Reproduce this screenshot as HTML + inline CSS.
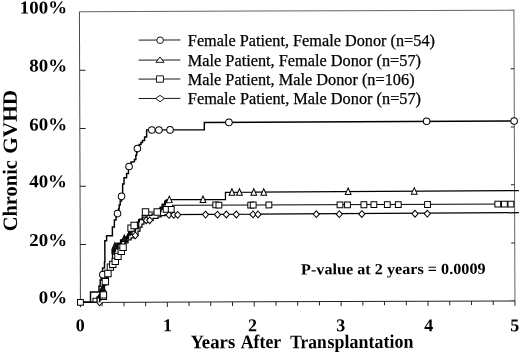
<!DOCTYPE html>
<html><head><meta charset="utf-8"><title>Chronic GVHD</title>
<style>html,body{margin:0;padding:0;background:#fff}svg{display:block}</style></head>
<body>
<svg width="520" height="353" viewBox="0 0 520 353">
<rect width="520" height="353" fill="#fff"/>
<g transform="rotate(-0.2 260 176.5)">
<path d="M80.0,11.0H514.5V301.8" fill="none" stroke="#666" stroke-width="1"/>
<path d="M80.0,301.8V11.0" fill="none" stroke="#4a4a4a" stroke-width="1"/>
<path d="M80.0,301.8H514.5" fill="none" stroke="#222" stroke-width="1.1"/>
<path d="M80.0,243.8h5.8M514.5,243.8h-3.5M80.0,185.6h5.8M514.5,185.6h-3.5M80.0,127.8h5.8M514.5,127.8h-3.5M80.0,69.7h5.8M514.5,69.7h-3.5M80.0,301.8v4.8M101.7,301.8v4.0M123.5,301.8v4.0M145.2,301.8v4.0M166.9,301.8v4.8M188.6,301.8v4.0M210.3,301.8v4.0M232.1,301.8v4.0M253.8,301.8v4.8M275.5,301.8v4.0M297.2,301.8v4.0M319.0,301.8v4.0M340.7,301.8v4.8M362.4,301.8v4.0M384.1,301.8v4.0M405.9,301.8v4.0M427.6,301.8v4.8M449.3,301.8v4.0M471.1,301.8v4.0M492.8,301.8v4.0M514.5,301.8v4.8" fill="none" stroke="#222" stroke-width="1"/>
<path d="M79.6,301.7H99.2V301.7H99.2V295.4H101.6V289.4H103.6V284.5H105.6V278.5H107.7V273.5H109.7V267.5H112.7V261.5H115.7V255.5H118.2V251.5H121.8V246.5H124.8V242.5H127.8V239.5H130.8V237.5H135.1V235.0H137.8V230.6H139.8V226.6H141.8V223.6H143.8V221.1H146.1V219.9H149.5V219.9H152.9V218.1H157.9V216.6H160.9V215.2H164.9V214.3L518.9,213.6" fill="none" stroke="#000" stroke-width="1.25" stroke-linejoin="miter"/>
<path d="M79.6,301.7H96.6V301.7H96.6V296.4H99.6V296.4H99.6V290.4H102.3V287.5H104.1V280.5H106.2V274.5H108.2V268.5H110.2V261.5H112.2V253.5H114.2V246.5H116.8V246.5H116.8V243.0H120.8V243.0H120.8V239.5H124.3V238.5H126.3V236.0H128.3V234.0H131.8V230.6H135.3V228.1H138.5V225.6H138.5V219.3H142.6V216.6H146.9V215.1H151.9V213.6H156.9V210.6H159.9V207.7H162.4V204.2H164.9V201.0H166.9V199.4H225.4V199.4H225.4V192.2L518.9,191.5" fill="none" stroke="#000" stroke-width="1.25" stroke-linejoin="miter"/>
<path d="M79.6,301.7H92.6V301.7H92.6V297.6H97.9V297.6H97.9V294.4H100.6V294.4H100.6V289.4H102.6V289.5H102.6V284.5H105.0V281.1H106.3V276.5H107.6V273.0H108.9V269.5H110.1V266.6H112.5V263.9H115.0V260.9H116.3V258.5H117.7V255.9H119.3V253.5H121.0V250.8H122.8V246.8H124.8V241.5H126.8V235.5H128.3V230.5H130.9V227.7H134.0V225.0H136.8V221.6H139.4V218.6H141.9V215.1H145.4V211.6H157.3V211.6H160.9V209.0H172.4V209.0H172.4V205.0L510.9,204.9" fill="none" stroke="#000" stroke-width="1.0" stroke-linejoin="miter"/>
<path d="M111.2,252.5H112.3V250.0H114.7V246.0H117.3V243.1H120.8V240.1H124.3V237.5H127.8V234.1H129.8V232.1L131.8,230.4" fill="none" stroke="#000" stroke-width="2.3" stroke-linejoin="miter"/>
<path d="M99.1,299.4H100.1V295.4H101.1V290.4H102.3V287.0L103.2,283.5" fill="none" stroke="#000" stroke-width="1.8" stroke-linejoin="miter"/>
<path d="M158.4,209.1H160.4V207.2H162.4V204.2H164.9V201.0L166.9,199.4" fill="none" stroke="#000" stroke-width="1.9" stroke-linejoin="miter"/>
<path d="M79.6,301.7H90.1V301.7H90.1V291.4H98.6V291.4H98.6V285.7H99.8V285.7H99.8V279.4H100.9V273.9H102.2V267.4H104.2V261.5H104.6V240.3H106.4V240.3H106.4V235.3H112.2V235.3H112.2V226.5H114.2V226.5H114.2V219.5H115.8V219.5H115.9V215.5H117.4V213.1H118.4V208.5H119.1V204.5H120.1V200.5H121.5V195.9H122.6V189.5H122.6V183.5H124.0V183.5H124.0V177.2H126.6V177.2H126.6V173.1H128.5V173.1H128.5V166.0H131.0V166.0H131.1V161.5H134.5V161.6H134.5V159.0H135.9V159.0H135.9V154.9H136.7V151.6H137.5V148.1H139.3V148.1H139.3V144.1H141.1V144.1H141.1V142.0H142.6V142.0H142.6V140.0H144.7V140.0H144.7V136.6H146.7V136.6H146.8V129.5H204.5V129.5H204.5V122.3L514.2,121.9" fill="none" stroke="#000" stroke-width="1.45" stroke-linejoin="miter"/>
<g fill="#fff" stroke="#000" stroke-width="1">
<path d="M96.2,301.8L99.2,305.2L102.2,301.8"/>
<path d="M135.1,231.6L138.1,235.0L135.1,238.4L132.0,235.0Z"/>
<path d="M146.1,216.5L149.2,219.9L146.1,223.3L143.1,219.9Z"/>
<path d="M149.5,216.5L152.6,219.9L149.5,223.3L146.5,219.9Z"/>
<path d="M168.9,211.2L171.9,214.6L168.9,218.0L165.8,214.6Z"/>
<path d="M173.7,211.2L176.7,214.6L173.7,218.0L170.6,214.6Z"/>
<path d="M177.6,211.2L180.6,214.6L177.6,218.0L174.5,214.6Z"/>
<path d="M205.4,211.0L208.4,214.4L205.4,217.8L202.3,214.4Z"/>
<path d="M217.4,211.1L220.4,214.5L217.4,217.9L214.3,214.5Z"/>
<path d="M226.2,211.0L229.2,214.4L226.2,217.8L223.1,214.4Z"/>
<path d="M236.2,211.0L239.2,214.4L236.2,217.8L233.1,214.4Z"/>
<path d="M252.9,211.0L255.9,214.4L252.9,217.8L249.8,214.4Z"/>
<path d="M257.9,211.0L260.9,214.4L257.9,217.8L254.8,214.4Z"/>
<path d="M316.2,211.0L319.2,214.4L316.2,217.8L313.1,214.4Z"/>
<path d="M339.2,211.0L342.2,214.4L339.2,217.8L336.1,214.4Z"/>
<path d="M361.7,211.0L364.7,214.4L361.7,217.8L358.6,214.4Z"/>
<path d="M414.9,210.9L417.9,214.3L414.9,217.7L411.8,214.3Z"/>
<path d="M427.2,210.9L430.2,214.3L427.2,217.7L424.1,214.3Z"/>
<circle cx="102.5" cy="274.1" r="3.3"/>
<circle cx="117.4" cy="213.1" r="3.3"/>
<circle cx="121.5" cy="195.9" r="3.3"/>
<circle cx="129.1" cy="166.0" r="3.3"/>
<circle cx="137.5" cy="148.1" r="3.3"/>
<circle cx="152.0" cy="129.6" r="3.3"/>
<circle cx="159.1" cy="129.6" r="3.3"/>
<circle cx="170.2" cy="129.6" r="3.3"/>
<circle cx="229.1" cy="122.3" r="3.3"/>
<circle cx="426.8" cy="121.9" r="3.3"/>
<circle cx="514.3" cy="121.9" r="3.3"/>
<path d="M102.3,283.9L105.2,290.4H99.4Z" fill="#1a1a1a"/>
<path d="M114.7,241.9L117.6,248.4H111.8Z" fill="#1a1a1a"/>
<path d="M124.1,234.5L127.0,241.0H121.2Z" fill="#1a1a1a"/>
<path d="M169.2,195.8L172.1,202.3H166.3Z"/>
<path d="M202.9,195.8L205.8,202.3H200.0Z"/>
<path d="M231.9,188.7L234.8,195.2H229.0Z"/>
<path d="M239.4,188.7L242.3,195.2H236.5Z"/>
<path d="M253.7,188.7L256.6,195.2H250.8Z"/>
<path d="M263.7,188.7L266.6,195.2H260.8Z"/>
<path d="M348.1,188.3L351.0,194.8H345.2Z"/>
<path d="M414.2,188.2L417.1,194.7H411.3Z"/>
<rect x="77.1" y="298.8" width="5.8" height="5.8"/>
<rect x="99.7" y="292.5" width="6.4" height="6.4"/>
<rect x="99.8" y="291.1" width="6.4" height="6.4"/>
<rect x="101.8" y="277.9" width="6.4" height="6.4"/>
<rect x="104.4" y="269.8" width="6.4" height="6.4"/>
<rect x="106.9" y="263.4" width="6.4" height="6.4"/>
<rect x="109.3" y="260.7" width="6.4" height="6.4"/>
<rect x="111.8" y="257.7" width="6.4" height="6.4"/>
<rect x="114.5" y="252.7" width="6.4" height="6.4"/>
<rect x="117.8" y="247.6" width="6.4" height="6.4"/>
<rect x="119.6" y="243.6" width="6.4" height="6.4"/>
<rect x="127.7" y="224.5" width="6.4" height="6.4"/>
<rect x="130.8" y="221.8" width="6.4" height="6.4"/>
<rect x="142.2" y="208.4" width="6.4" height="6.4"/>
<rect x="153.9" y="208.4" width="6.4" height="6.4"/>
<rect x="163.1" y="206.1" width="5.8" height="5.8"/>
<rect x="168.2" y="206.1" width="5.8" height="5.8"/>
<rect x="212.7" y="201.9" width="5.8" height="5.8"/>
<rect x="215.9" y="202.0" width="5.8" height="5.8"/>
<rect x="247.7" y="202.1" width="5.8" height="5.8"/>
<rect x="250.2" y="202.1" width="5.8" height="5.8"/>
<rect x="265.9" y="202.1" width="5.8" height="5.8"/>
<rect x="337.0" y="202.2" width="5.8" height="5.8"/>
<rect x="344.5" y="202.2" width="5.8" height="5.8"/>
<rect x="360.9" y="202.2" width="5.8" height="5.8"/>
<rect x="370.9" y="202.2" width="5.8" height="5.8"/>
<rect x="384.3" y="202.1" width="5.8" height="5.8"/>
<rect x="395.3" y="202.2" width="5.8" height="5.8"/>
<rect x="424.5" y="202.2" width="5.8" height="5.8"/>
<rect x="494.8" y="202.0" width="5.8" height="5.8"/>
<rect x="501.4" y="202.1" width="5.8" height="5.8"/>
<rect x="507.9" y="202.1" width="5.8" height="5.8"/>
</g>
<g fill="#fff" stroke="#000" stroke-width="0.9">
<path d="M139.1,39.7H180.9" stroke-width="0.9"/>
<circle cx="160.6" cy="39.9" r="3.3"/>
<path d="M139.0,59.7H180.8" stroke-width="0.9"/>
<path d="M160.4,56.6L164.4,62.0H156.4Z"/>
<path d="M138.9,78.7H180.7" stroke-width="0.9"/>
<rect x="156.8" y="75.5" width="7.0" height="6.4"/>
<path d="M138.9,98.1H180.7" stroke-width="0.9"/>
<path d="M160.3,95.0L164.7,98.2L160.3,101.4L155.9,98.2Z"/>
</g>
<g font-family="'Liberation Serif', 'Times New Roman', serif" fill="#000">
<text x="20.4" y="12.6" font-size="18" font-weight="bold" text-anchor="start" textLength="47.2" lengthAdjust="spacingAndGlyphs">100%</text>
<text x="29.6" y="70.8" font-size="18" font-weight="bold" text-anchor="start" textLength="37.8" lengthAdjust="spacingAndGlyphs">80%</text>
<text x="29.4" y="129.6" font-size="18" font-weight="bold" text-anchor="start" textLength="37.8" lengthAdjust="spacingAndGlyphs">60%</text>
<text x="29.2" y="186.5" font-size="18" font-weight="bold" text-anchor="start" textLength="37.8" lengthAdjust="spacingAndGlyphs">40%</text>
<text x="29.0" y="245.2" font-size="18" font-weight="bold" text-anchor="start" textLength="37.8" lengthAdjust="spacingAndGlyphs">20%</text>
<text x="38.3" y="302.4" font-size="18" font-weight="bold" text-anchor="start" textLength="28.3" lengthAdjust="spacingAndGlyphs">0%</text>
<text x="79.7" y="330.6" font-size="18" font-weight="bold" text-anchor="middle">0</text>
<text x="167.0" y="330.9" font-size="18" font-weight="bold" text-anchor="middle">1</text>
<text x="252.0" y="331.2" font-size="18" font-weight="bold" text-anchor="middle">2</text>
<text x="340.1" y="331.5" font-size="18" font-weight="bold" text-anchor="middle">3</text>
<text x="428.1" y="331.8" font-size="18" font-weight="bold" text-anchor="middle">4</text>
<text x="514.3" y="332.1" font-size="18" font-weight="bold" text-anchor="middle">5</text>
<text x="189.8" y="348.0" font-size="19.2" font-weight="bold" text-anchor="start" textLength="44.8" lengthAdjust="spacingAndGlyphs">Years</text>
<text x="240.2" y="348.1" font-size="19.2" font-weight="bold" text-anchor="start" textLength="40.4" lengthAdjust="spacingAndGlyphs">After</text>
<text x="289.6" y="348.3" font-size="19.2" font-weight="bold" text-anchor="start" textLength="36.6" lengthAdjust="spacingAndGlyphs">Tran</text>
<text x="326.9" y="348.3" font-size="19.2" font-weight="bold" text-anchor="start" textLength="85.9" lengthAdjust="spacingAndGlyphs">splantation</text>
<text transform="translate(16.7 230.5) rotate(-90)" font-size="20.4" font-weight="bold" textLength="71.3" lengthAdjust="spacingAndGlyphs">Chronic</text>
<text transform="translate(17.0 153.0) rotate(-90)" font-size="20.4" font-weight="bold" textLength="64.0" lengthAdjust="spacingAndGlyphs">GVHD</text>
<text x="188.3" y="46.0" font-size="16.1" font-weight="normal" text-anchor="start" textLength="247.1" lengthAdjust="spacingAndGlyphs" stroke="#000" stroke-width="0.25" transform="rotate(0.2 188.3 46.0)">Female Patient, Female Donor (n=54)</text>
<text x="188.2" y="65.7" font-size="16.1" font-weight="normal" text-anchor="start" textLength="233.2" lengthAdjust="spacingAndGlyphs" stroke="#000" stroke-width="0.25" transform="rotate(0.2 188.2 65.7)">Male Patient, Female Donor (n=57)</text>
<text x="188.1" y="84.8" font-size="16.1" font-weight="normal" text-anchor="start" textLength="226.8" lengthAdjust="spacingAndGlyphs" stroke="#000" stroke-width="0.25" transform="rotate(0.2 188.1 84.8)">Male Patient, Male Donor (n=106)</text>
<text x="188.1" y="104.1" font-size="16.1" font-weight="normal" text-anchor="start" textLength="233.2" lengthAdjust="spacingAndGlyphs" stroke="#000" stroke-width="0.25" transform="rotate(0.2 188.1 104.1)">Female Patient, Male Donor (n=57)</text>
<text x="300.7" y="274.6" font-size="15.5" font-weight="bold" text-anchor="start" textLength="184.6" lengthAdjust="spacingAndGlyphs">P-value at 2 years = 0.0009</text>
</g>
</g></svg>
</body></html>
